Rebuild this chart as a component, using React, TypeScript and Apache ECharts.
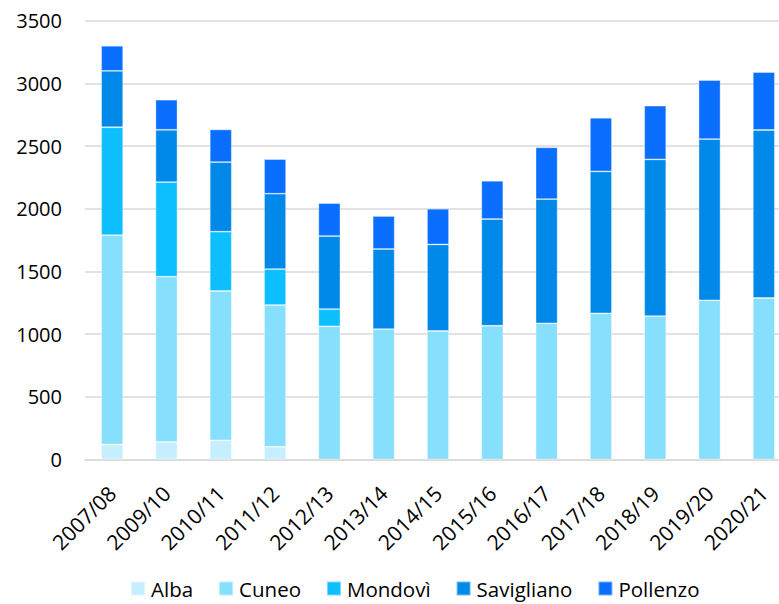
import React, { useEffect, useRef } from "react";
import * as echarts from "echarts";

const categories = ["2007/08", "2009/10", "2010/11", "2011/12", "2012/13", "2013/14", "2014/15", "2015/16", "2016/17", "2017/18", "2018/19", "2019/20", "2020/21"];
const alba = [120, 140, 153, 102, null, null, null, null, null, null, null, null, null];
const cuneo = [1670, 1318, 1191, 1130, 1062, 1040, 1025, 1067, 1086, 1166, 1144, 1270, 1288];
const mondovi = [860, 755, 473, 287, 138, null, null, null, null, null, null, null, null];
const savigliano = [450, 417, 555, 601, 582, 639, 690, 851, 991, 1132, 1250, 1286, 1340];
const pollenzo = [200, 240, 261, 276, 263, 263, 285, 305, 413, 428, 428, 470, 462];

const seriesDefs = [
  { name: "Alba", data: alba, color: "#C5EFFF" },
  { name: "Cuneo", data: cuneo, color: "#86DFFD" },
  { name: "Mondovì", data: mondovi, color: "#0DBFFF" },
  { name: "Savigliano", data: savigliano, color: "#0089E8" },
  { name: "Pollenzo", data: pollenzo, color: "#0A6EFF" },
];

const FONT = "'Open Sans', 'Noto Sans', sans-serif";

export default function App() {
  const ref = useRef<HTMLDivElement>(null);
  useEffect(() => {
    if (!ref.current) return;
    const chart = echarts.init(ref.current, null, { renderer: "svg" });
    chart.setOption({
      animation: false,
      backgroundColor: "#ffffff",
      grid: { left: 85, top: 20.7, width: 706, height: 438.8, outerBoundsMode: "none" },
      legend: {
        left: 130,
        top: 578,
        padding: 0,
        itemWidth: 14,
        itemHeight: 14,
        itemGap: 25,
        icon: "rect",
        textStyle: { fontFamily: FONT, fontSize: 20.5, lineHeight: 20, color: "#000", padding: [0, 0, 0, 1] },
        data: seriesDefs.map((s) => s.name),
      },
      xAxis: {
        type: "category",
        data: categories,
        axisLine: { lineStyle: { color: "#d9d9d9", width: 1.5 } },
        axisTick: { show: false },
        axisLabel: { rotate: 45, margin: 30, interval: 0, fontFamily: FONT, fontSize: 21, color: "#000" },
      },
      yAxis: {
        type: "value",
        min: 0,
        max: 3500,
        interval: 500,
        axisLine: { show: false },
        axisTick: { show: false },
        splitLine: { lineStyle: { color: "#d9d9d9", width: 1.5 } },
        axisLabel: { margin: 23, fontFamily: FONT, fontSize: 20, color: "#000", formatter: (v: number) => String(v) },
      },
      series: seriesDefs.map((s) => ({
        name: s.name,
        type: "bar",
        stack: "total",
        barWidth: 22,
        data: s.data,
        itemStyle: { color: s.color, borderColor: "rgba(255,255,255,0.45)", borderWidth: 0.8 },
      })),
    });
    return () => chart.dispose();
  }, []);
  return <div ref={ref} style={{ position: "absolute", left: 0, top: 0, width: 779, height: 604 }} />;
}
